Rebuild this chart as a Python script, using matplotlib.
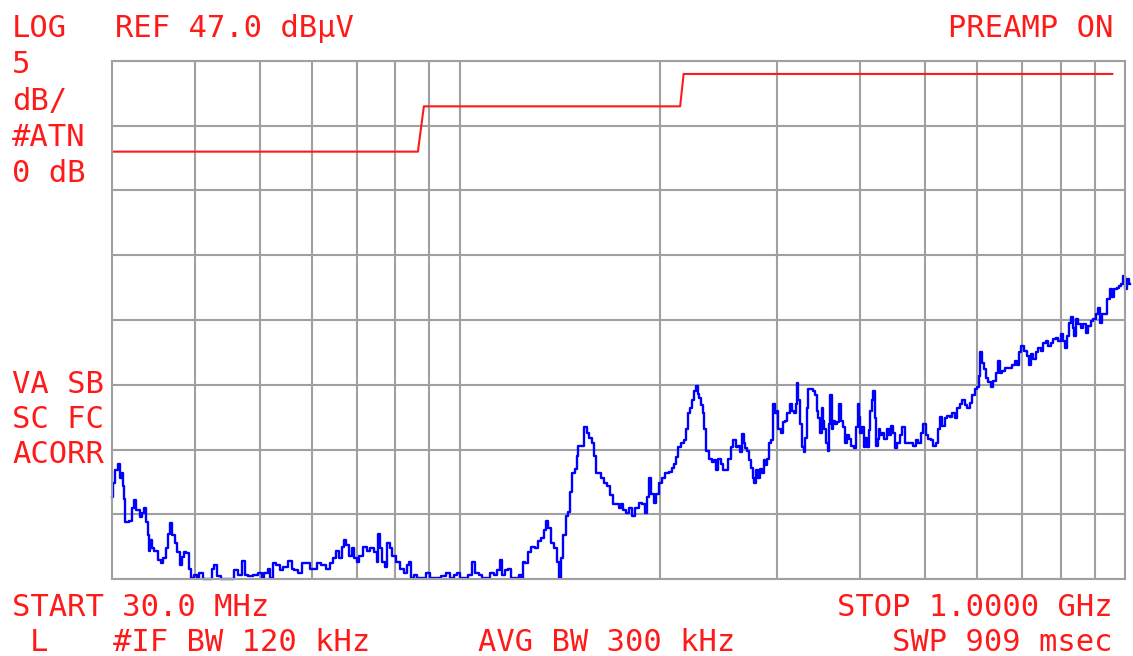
import matplotlib
matplotlib.use("Agg")
import matplotlib.pyplot as plt

# spectrum analyzer settings
ref_level = 47.0      # dBuV, top of screen
db_per_div = 5
n_div = 8
f_start = 30.0        # MHz
f_stop = 1000.0       # MHz

# vertical grid frequencies (MHz)
grid_freqs = [40, 50, 60, 70, 80, 90, 100, 200, 300, 400, 500, 600, 700, 800, 900]

# limit line (MHz, dBuV)
limit_freq = [30, 86.5, 88.3, 214.4, 217.0, 957]
limit_level = [40, 40, 43.5, 43.5, 46, 46]

trace_freq = [
    30.0, 30.2, 30.5, 30.7, 31.0, 31.1, 31.2, 31.3, 31.4, 31.7, 32.0, 32.3, 32.5, 32.8, 33.2, 33.4,
    33.6, 33.9, 34.0, 34.2, 34.3, 34.6, 34.9, 35.4, 35.7, 36.0, 36.3, 36.5, 36.8, 37.1, 37.4, 37.8,
    38.1, 38.4, 38.6, 39.0, 39.3, 39.6, 40.0, 40.4, 40.8, 41.4, 42.1, 42.6, 42.9, 43.3, 44.1, 45.3,
    46.1, 46.7, 47.4, 47.7, 48.4, 49.2, 50.1, 50.6, 51.1, 51.8, 52.0, 52.7, 53.3, 53.9, 54.6, 55.6,
    56.1, 56.7, 57.5, 58.5, 59.1, 59.8, 60.6, 61.2, 62.3, 63.4, 64.0, 64.9, 65.4, 66.1, 66.8, 67.2,
    67.9, 68.6, 69.1, 69.6, 70.3, 71.0, 72.0, 72.8, 73.8, 74.6, 75.3, 75.6, 76.1, 76.7, 77.5, 78.0,
    78.8, 79.6, 80.8, 81.9, 82.7, 83.6, 84.2, 84.8, 85.7, 86.5, 88.1, 89.6, 90.8, 92.8, 94.4, 96.0,
    97.4, 98.4, 99.4, 100.8, 102.5, 103.6, 104.7, 106.2, 107.3, 108.4, 110.3, 111.8, 113.0, 114.2, 115.4, 116.2,
    117.8, 118.6, 119.9, 121.9, 123.2, 124.1, 124.5, 126.2, 126.7, 128.9, 130.7, 131.6, 133.0, 134.4, 135.3, 136.2,
    137.7, 139.1, 140.6, 141.5, 142.5, 143.5, 145.0, 146.0, 147.0, 148.0, 149.6, 150.1, 151.1, 152.7, 154.3, 155.9,
    157.0, 158.7, 159.8, 160.9, 162.5, 163.7, 165.4, 167.1, 169.4, 170.6, 173.0, 174.2, 175.4, 176.6, 178.5, 180.3,
    182.2, 184.8, 186.7, 188.6, 190.6, 191.9, 193.3, 194.6, 196.6, 198.0, 200.1, 202.2, 205.0, 207.1, 209.3, 210.7,
    212.2, 213.7, 215.9, 218.2, 219.7, 221.2, 222.7, 224.3, 225.8, 227.4, 228.2, 229.8, 231.4, 232.2, 233.8, 235.4,
    237.9, 240.4, 242.0, 243.7, 245.4, 248.0, 249.7, 252.3, 254.1, 256.7, 258.5, 261.2, 263.0, 264.8, 266.7, 267.6,
    269.5, 271.4, 273.2, 275.1, 276.1, 278.0, 280.0, 280.9, 283.9, 285.8, 286.8, 288.8, 290.8, 292.8, 294.9, 295.9,
    299.0, 300.0, 302.1, 305.2, 306.3, 309.5, 311.7, 314.9, 317.1, 319.3, 320.4, 321.5, 323.8, 326.0, 328.3, 329.4,
    331.7, 332.8, 335.2, 338.7, 341.0, 343.4, 344.6, 347.0, 349.4, 350.6, 351.8, 354.2, 356.7, 357.9, 359.2, 361.7,
    362.9, 365.5, 368.0, 370.6, 373.1, 375.7, 377.0, 381.0, 383.6, 386.3, 389.0, 393.0, 395.8, 397.1, 398.5, 401.3,
    404.1, 405.5, 408.3, 411.1, 412.5, 415.4, 416.9, 419.8, 421.2, 424.1, 425.6, 427.1, 430.1, 433.0, 436.1, 440.6,
    443.7, 446.8, 449.9, 453.0, 456.1, 460.9, 464.1, 468.9, 472.2, 478.8, 482.1, 487.1, 490.5, 495.6, 499.1, 504.3,
    507.8, 513.1, 516.7, 522.1, 525.7, 529.3, 533.0, 538.6, 542.3, 548.0, 551.8, 557.6, 561.5, 567.3, 571.2, 577.2,
    581.2, 587.3, 591.4, 597.5, 601.7, 603.8, 608.0, 612.2, 614.3, 620.8, 625.1, 631.6, 636.0, 642.6, 647.1, 651.6,
    656.1, 665.2, 672.2, 679.2, 686.3, 691.1, 695.9, 700.7, 708.0, 715.4, 720.4, 725.4, 730.4, 738.1, 743.2, 751.0,
    756.2, 764.1, 769.4, 777.4, 782.8, 791.0, 796.5, 804.8, 807.6, 816.0, 821.7, 827.4, 833.2, 836.0, 841.9, 847.7,
    853.6, 862.5, 868.5, 877.6, 883.7, 892.9, 899.1, 908.5, 914.8, 921.2, 927.5, 937.2, 943.7, 953.6, 956.9, 966.9,
    977.0, 983.8, 990.6, 997.5, 1004.4, 1011.4, 1018.4,
]
trace_level = [
    13.3, 14.4, 15.4, 15.9, 14.8, 15.2, 14.2, 13.2, 11.4, 11.4, 11.5, 12.5, 13.1, 12.3, 11.8, 12.1,
    12.5, 11.4, 10.4, 9.2, 10.0, 9.4, 9.2, 8.5, 8.2, 8.6, 9.4, 10.5, 11.3, 10.4, 9.8, 9.1,
    8.1, 8.7, 9.1, 9.0, 7.8, 7.1, 7.3, 7.1, 7.5, 7.0, 7.0, 7.8, 8.1, 7.2, 7.0, 7.0,
    7.7, 7.3, 8.4, 7.3, 7.2, 7.3, 7.5, 7.1, 7.5, 7.8, 7.1, 8.2, 8.1, 7.7, 7.9, 8.4,
    7.8, 7.7, 7.5, 8.2, 8.2, 7.8, 7.8, 8.2, 8.1, 7.8, 8.2, 8.6, 9.2, 8.6, 9.5, 10.0,
    9.6, 8.8, 9.4, 8.6, 8.3, 8.8, 9.5, 9.2, 9.4, 9.1, 8.3, 10.5, 9.4, 8.3, 7.9, 9.8,
    9.4, 8.8, 8.3, 7.8, 7.5, 8.1, 8.3, 7.1, 7.3, 7.1, 7.1, 7.5, 7.1, 7.1, 7.2, 7.5,
    7.1, 7.3, 7.5, 7.1, 7.1, 7.3, 8.3, 7.5, 7.3, 7.1, 7.1, 7.5, 7.3, 7.7, 8.5, 7.3,
    7.7, 7.8, 7.1, 7.1, 7.3, 7.1, 8.3, 8.2, 9.1, 9.5, 9.4, 9.9, 10.2, 10.8, 11.5, 10.9,
    9.8, 9.4, 8.3, 7.1, 8.6, 10.4, 11.9, 12.2, 13.7, 15.2, 15.5, 16.5, 17.3, 17.3, 18.7, 18.3,
    17.9, 17.5, 16.5, 15.2, 15.2, 14.8, 14.4, 14.2, 13.5, 12.8, 12.8, 12.5, 12.8, 12.3, 12.1, 12.5,
    11.9, 12.5, 12.9, 12.8, 12.1, 13.3, 14.8, 13.6, 12.9, 13.6, 14.4, 14.8, 15.2, 15.3, 15.6, 15.9,
    16.4, 17.2, 17.5, 17.7, 18.6, 19.8, 20.2, 20.8, 21.5, 21.9, 21.3, 21.0, 20.4, 19.8, 18.6, 16.9,
    16.3, 16.0, 16.2, 15.4, 16.3, 15.9, 15.4, 15.4, 16.3, 17.2, 17.7, 17.2, 17.3, 16.8, 18.2, 17.5,
    17.1, 16.9, 16.2, 15.6, 14.8, 14.4, 15.4, 14.8, 15.5, 15.2, 16.2, 15.8, 16.3, 17.5, 17.7, 20.5,
    19.8, 20.0, 18.6, 18.3, 19.1, 19.2, 19.8, 20.5, 20.0, 19.8, 20.5, 22.1, 20.8, 19.0, 17.2, 16.8,
    17.9, 20.2, 21.7, 21.7, 21.5, 21.2, 20.0, 19.4, 18.3, 20.2, 19.2, 18.6, 17.5, 16.9, 19.0, 21.2,
    18.6, 19.2, 19.0, 19.1, 20.5, 19.2, 18.7, 17.5, 18.1, 17.8, 17.3, 17.1, 18.7, 20.5, 19.5, 18.3,
    18.7, 17.2, 17.9, 17.2, 18.5, 20.0, 20.8, 21.5, 19.4, 17.3, 17.8, 18.6, 18.1, 18.3, 17.8, 18.6,
    18.1, 18.8, 18.3, 17.1, 17.5, 18.1, 18.7, 17.5, 17.5, 17.5, 17.3, 17.7, 17.5, 18.3, 19.0, 18.1,
    17.8, 17.7, 17.3, 17.5, 18.6, 19.5, 18.8, 19.4, 19.6, 19.5, 19.8, 19.4, 20.2, 20.5, 20.8, 20.4,
    20.2, 20.6, 21.2, 21.7, 21.8, 22.7, 24.5, 23.7, 23.2, 22.5, 22.2, 21.8, 22.3, 22.9, 23.8, 22.9,
    23.1, 23.3, 23.3, 23.5, 23.8, 23.5, 24.5, 25.0, 24.6, 24.2, 23.5, 24.4, 24.0, 24.5, 24.8, 24.6,
    25.2, 25.4, 25.0, 25.2, 25.5, 25.6, 25.4, 25.9, 25.4, 24.8, 25.8, 26.8, 27.2, 26.4, 25.8, 27.1,
    26.7, 26.4, 26.7, 26.0, 26.5, 26.9, 27.1, 27.5, 27.9, 26.8, 27.5, 27.5, 28.6, 29.4, 28.8, 29.4,
    29.5, 29.6, 29.8, 30.4, 29.4, 30.2, 29.8,
]

W, H = 1133, 656
red = "#ff1a1a"
grid_gray = "#a0a0a0"

fig = plt.figure(figsize=(W / 100, H / 100), dpi=100)
ax = fig.add_axes([112 / W, (H - 579) / H, 1013 / W, 518 / H])

bottom = ref_level - n_div * db_per_div
ax.set_xscale("log")
ax.set_xlim(f_start, f_stop)
ax.set_ylim(bottom, ref_level)

ax.set_yticks([bottom + i * db_per_div for i in range(n_div + 1)])
ax.set_xticks(grid_freqs)
ax.minorticks_off()
ax.tick_params(length=0, labelbottom=False, labelleft=False)
ax.grid(True, color=grid_gray, linewidth=1.5)
for s in ax.spines.values():
    s.set_color(grid_gray)
    s.set_linewidth(1.5)

ax.plot(limit_freq, limit_level, color=red, linewidth=1.5)
# screen trace is drawn pixel by pixel, so use steps
ax.plot(trace_freq, trace_level, color="#0000ff", linewidth=1.7,
        drawstyle="steps-mid", clip_on=False)

# annotation text in the analyzer's screen font
fs = 22
mono = "DejaVu Sans Mono"


def label(x, y, s, ha="left"):
    fig.text(x / W, 1 - y / H, s, color=red, fontsize=fs, family=mono,
             ha=ha, va="baseline")


label(12, 37, "LOG")
label(115, 37, "REF 47.0 dB\u00b5V")
label(1113, 37, "PREAMP ON", ha="right")
label(12, 73, "5")
label(12, 110, "dB/")
label(12, 146, "#ATN")
label(12, 182, "0 dB")
label(12, 393, "VA SB")
label(12, 428, "SC FC")
label(12, 463, "ACORR")
label(12, 616, "START 30.0 MHz")
label(1113, 616, "STOP 1.0000 GHz", ha="right")
label(30, 651, "L")
label(113, 651, "#IF BW 120 kHz")
label(478, 651, "AVG BW 300 kHz")
label(1113, 651, "SWP 909 msec", ha="right")

plt.savefig("out.png", dpi=100)
